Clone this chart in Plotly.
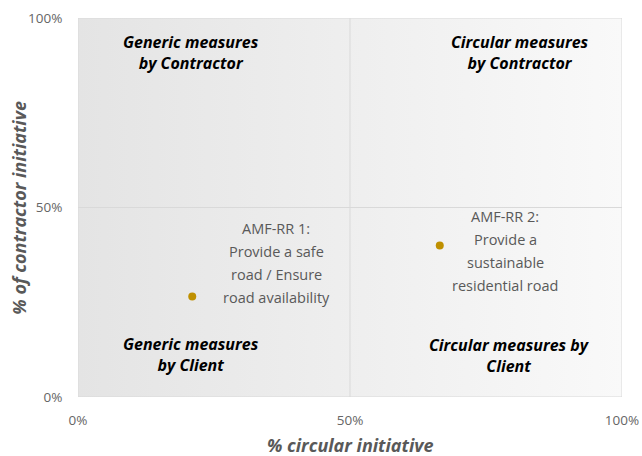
import plotly.graph_objects as go

# Data
point_names = ["AMF-RR 1", "AMF-RR 2"]
circular_pct = [21.0, 66.5]
contractor_pct = [26.5, 40.0]
point_labels = [
    ["AMF-RR 1:", "Provide a safe", "road / Ensure", "road availability"],
    ["AMF-RR 2:", "Provide a", "sustainable", "residential road"],
]
label_centers_x = [36.4, 78.5]
label_top_y = [44.5, 47.5]

quadrant_texts = [
    "Generic measures<br>by Contractor",
    "Circular measures<br>by Contractor",
    "Generic measures<br>by Client",
    "Circular measures by<br>Client",
]
quadrant_x = [20.8, 81.3, 20.8, 79.4]
quadrant_y = [90.8, 90.8, 11.3, 11.0]

tick_vals = [0, 50, 100]
tick_text = ["0%", "50%", "100%"]
x_title = "% circular initiative"
y_title = "% of contractor initiative"

FONT = "Open Sans"
GREY = "#595959"
TICK = "#666666"
LINE = "#d9d9d9"

fig = go.Figure()

# gradient background
fig.add_trace(go.Scatter(
    x=[0, 100, 100, 0, 0], y=[0, 0, 100, 100, 0],
    mode="lines", line=dict(width=0), fill="toself",
    fillgradient=dict(type="horizontal",
                      colorscale=[[0, "#e4e4e4"], [1, "#f9f9f9"]]),
    hoverinfo="skip", showlegend=False,
))

fig.add_trace(go.Scatter(
    x=circular_pct, y=contractor_pct, mode="markers",
    marker=dict(color="#bf9000", size=8),
    name="Measures", showlegend=False, text=point_names,
))

annotations = []
line_step = 6.07
for lines, cx, ty in zip(point_labels, label_centers_x, label_top_y):
    for i, t in enumerate(lines):
        annotations.append(dict(
            x=cx, y=ty - i * line_step, xref="x", yref="y", text=t,
            showarrow=False, xanchor="center", yanchor="middle",
            font=dict(family=FONT, size=14.5, color=GREY),
        ))
for t, qx, qy in zip(quadrant_texts, quadrant_x, quadrant_y):
    annotations.append(dict(
        x=qx, y=qy, xref="x", yref="y", text="<b><i>" + t + "</i></b>",
        showarrow=False, xanchor="center", yanchor="middle",
        font=dict(family=FONT, size=16, color="#000000"),
    ))
# axis titles
annotations.append(dict(
    x=0.5, y=-0.127, xref="paper", yref="paper",
    text="<b><i>" + x_title + "</i></b>", showarrow=False,
    xanchor="center", yanchor="middle",
    font=dict(family=FONT, size=18, color=GREY),
))
annotations.append(dict(
    x=-0.110, y=0.5, xref="paper", yref="paper", textangle=-90,
    text="<b><i>" + y_title + "</i></b>", showarrow=False,
    xanchor="center", yanchor="middle",
    font=dict(family=FONT, size=18, color=GREY),
))

shapes = [
    dict(type="line", x0=50, x1=50, y0=0, y1=100, xref="x", yref="y",
         line=dict(color=LINE, width=1), layer="above"),
    dict(type="line", x0=0, x1=100, y0=50, y1=50, xref="x", yref="y",
         line=dict(color=LINE, width=1), layer="above"),
    dict(type="rect", x0=0, x1=100, y0=0, y1=100, xref="x", yref="y",
         line=dict(color=LINE, width=1), layer="above"),
]

fig.update_layout(
    width=642, height=456,
    margin=dict(l=78, r=20, t=18, b=59, autoexpand=False),
    paper_bgcolor="white", plot_bgcolor="white",
    annotations=annotations, shapes=shapes,
    font=dict(family=FONT, color=GREY),
)
fig.update_xaxes(
    range=[0, 100], tickvals=tick_vals, ticktext=tick_text,
    showgrid=False, zeroline=False, showline=False, automargin=False,
    ticks="outside", ticklen=11, tickcolor="rgba(0,0,0,0)",
    tickfont=dict(family=FONT, size=13.5, color=TICK),
)
fig.update_yaxes(
    range=[0, 100], tickvals=tick_vals, ticktext=tick_text,
    showgrid=False, zeroline=False, showline=False, automargin=False,
    ticks="outside", ticklen=12, tickcolor="rgba(0,0,0,0)",
    tickfont=dict(family=FONT, size=13.5, color=TICK),
)

# remove the default page margin so the 642x456 figure fills the window exactly
fig.write_html(
    "out.html",
    config={"displayModeBar": False},
    post_script="document.body.style.margin='0';document.body.style.overflow='hidden';",
)
